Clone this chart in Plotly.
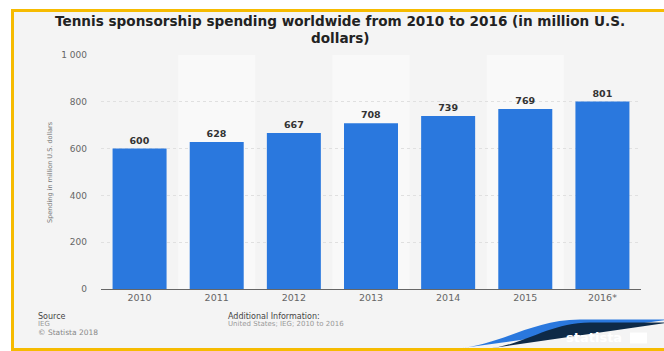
import plotly.graph_objects as go

# Tennis sponsorship spending, million U.S. dollars
years = ["2010", "2011", "2012", "2013", "2014", "2015", "2016*"]
spending = [600, 628, 667, 708, 739, 769, 801]
y_ticks = [0, 200, 400, 600, 800, 1000]

title_lines = [
    "Tennis sponsorship spending worldwide from 2010 to 2016 (in million U.S.",
    "dollars)",
]
y_title = "Spending in million U.S. dollars"

FIG_W, FIG_H = 664, 351
L, R, T, B = 101, 23, 55, 62
PW = FIG_W - L - R
PH = FIG_H - T - B

BAR = "#2a78de"
NAVY = "#0e2a47"
YELLOW = "#f6bb00"
FONT = "DejaVu Sans"


def fx(px):
    return (px - L) / PW


def fy(py):
    return (FIG_H - B - py) / PH


def path(points_cmds):
    out = []
    for cmd, pts in points_cmds:
        coords = " ".join(f"{fx(x):.5f},{fy(y):.5f}" for x, y in pts)
        out.append(f"{cmd}{coords}")
    return " ".join(out) + " Z"


fig = go.Figure()
fig.add_trace(go.Bar(
    x=years,
    y=spending,
    marker=dict(color=BAR, line=dict(width=0)),
    text=[str(v) for v in spending],
    textposition="outside",
    textfont=dict(family=FONT, size=9.5, color="#333333", weight="bold"),
    cliponaxis=False,
    hoverinfo="skip",
))

shapes = []
# card background
shapes.append(dict(type="rect", xref="paper", yref="paper",
                   x0=fx(12), x1=fx(670), y0=fy(350), y1=fy(10.5),
                   fillcolor="#f4f4f4", line=dict(width=0), layer="below"))
# lighter bands behind alternate columns
for i in range(1, len(years), 2):
    shapes.append(dict(type="rect", xref="x", yref="y",
                       x0=i - 0.5, x1=i + 0.5, y0=0, y1=1000,
                       fillcolor="#f9f9f9", line=dict(width=0), layer="below"))

# logo wave
shapes.append(dict(type="path", xref="paper", yref="paper",
                   path=path([("M", [(455, 349)]),
                              ("C", [(505, 344), (530, 320), (580, 319.5)]),
                              ("L", [(670, 319.5), (670, 349)])]),
                   fillcolor=BAR, line=dict(width=0)))
shapes.append(dict(type="path", xref="paper", yref="paper",
                   path=path([("M", [(486, 349)]),
                              ("C", [(525, 345), (548, 323), (590, 322.5)]),
                              ("L", [(670, 322.5), (670, 349)])]),
                   fillcolor=NAVY, line=dict(width=0)))
# logo icon
shapes.append(dict(type="rect", xref="paper", yref="paper",
                   x0=fx(630), x1=fx(647), y0=fy(343.5), y1=fy(332.5),
                   fillcolor="white", line=dict(width=0)))
shapes.append(dict(type="path", xref="paper", yref="paper",
                   path=path([("M", [(630, 340.5)]),
                              ("L", [(636, 339), (641, 335), (647, 334.5),
                                     (647, 336.5), (642, 337), (637, 341),
                                     (630, 342.5)])]),
                   fillcolor=NAVY, line=dict(width=0)))
# yellow frame
shapes.append(dict(type="rect", xref="paper", yref="paper",
                   x0=fx(12.5), x1=fx(672), y0=fy(349.5), y1=fy(10.5),
                   line=dict(color=YELLOW, width=3), fillcolor="rgba(0,0,0,0)"))

annotations = []
for text, ypx in zip(title_lines, (21, 38)):
    annotations.append(dict(xref="paper", yref="paper", x=fx(340), y=fy(ypx),
                            text=text, showarrow=False,
                            xanchor="center", yanchor="middle",
                            font=dict(family=FONT, size=13.6, color="#222222",
                                      weight="bold")))
annotations.append(dict(xref="paper", yref="paper", x=fx(50), y=fy(172),
                        text=y_title, showarrow=False, textangle=-90,
                        xanchor="center", yanchor="middle",
                        font=dict(family=FONT, size=6.5, color="#777777")))
# footer
foot = [
    (36, 316, "Source", 8, "#444444"),
    (36, 324, "IEG", 7, "#999999"),
    (36, 332, "© Statista 2018", 7.5, "#888888"),
    (226, 316, "Additional Information:", 8, "#444444"),
    (226, 324, "United States; IEG; 2010 to 2016", 7, "#999999"),
]
for x, y, txt, size, col in foot:
    annotations.append(dict(xref="paper", yref="paper", x=fx(x), y=fy(y),
                            text=txt, showarrow=False,
                            xanchor="left", yanchor="middle",
                            font=dict(family=FONT, size=size, color=col)))
annotations.append(dict(xref="paper", yref="paper", x=fx(594), y=fy(337),
                        text="statista", showarrow=False,
                        xanchor="center", yanchor="middle",
                        font=dict(family=FONT, size=13, color="white", weight="bold")))

fig.update_layout(
    width=FIG_W, height=FIG_H,
    margin=dict(l=L, r=R, t=T, b=B, pad=0),
    paper_bgcolor="white",
    plot_bgcolor="rgba(0,0,0,0)",
    separators=". ",
    bargap=0.3,
    showlegend=False,
    shapes=shapes,
    annotations=annotations,
    font=dict(family=FONT),
    xaxis=dict(
        type="category",
        range=[-0.5, len(years) - 0.5],
        showline=True, linecolor="#666666", linewidth=1,
        showgrid=False, ticks="",
        tickfont=dict(family=FONT, size=9.5, color="#666666"),
        fixedrange=True,
    ),
    yaxis=dict(
        range=[0, 1000],
        tickvals=y_ticks,
        separatethousands=True,
        showgrid=True, gridcolor="#e0e0e0", griddash="dot", gridwidth=1,
        zeroline=False, showline=False, ticks="",
        ticklabelstandoff=13,
        tickfont=dict(family=FONT, size=9, color="#666666"),
        fixedrange=True,
    ),
)

fig.write_html("out.html", config={"displayModeBar": False})
